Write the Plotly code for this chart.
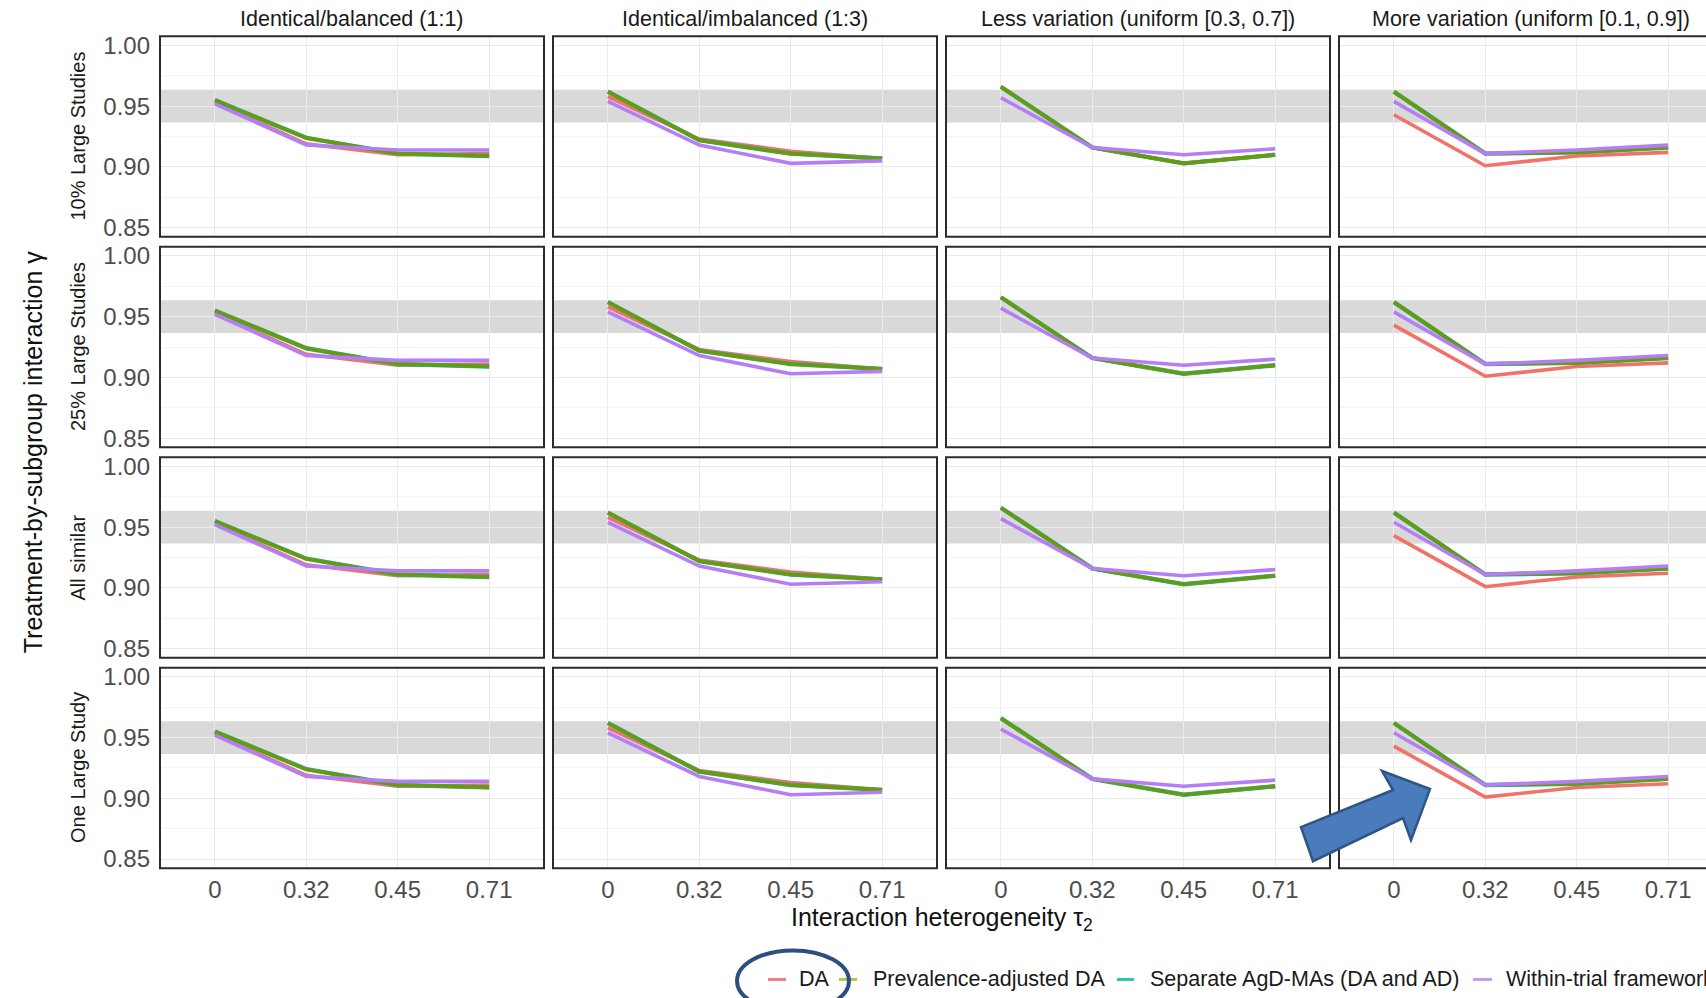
import plotly.graph_objects as go
from plotly.subplots import make_subplots

# ---- data -------------------------------------------------------------
TAU_LABELS = ["0", "0.32", "0.45", "0.71"]

COLUMN_TITLES = [
    "Identical/balanced (1:1)",
    "Identical/imbalanced (1:3)",
    "Less variation (uniform [0.3, 0.7])",
    "More variation (uniform [0.1, 0.9])",
]
ROW_TITLES = ["10% Large Studies", "25% Large Studies", "All similar", "One Large Study"]

METHODS = ["DA", "Prevalence-adjusted DA", "Separate AgD-MAs (DA and AD)", "Within-trial framework"]

# coverage per column (prevalence scenario), same in every study-size row
DA_COVERAGE = [
    [0.953, 0.919, 0.910, 0.911],
    [0.958, 0.923, 0.913, 0.907],
    [0.966, 0.916, 0.903, 0.910],
    [0.943, 0.901, 0.909, 0.912],
]
PREV_ADJ_COVERAGE = [
    [0.955, 0.924, 0.911, 0.909],
    [0.962, 0.922, 0.911, 0.907],
    [0.966, 0.916, 0.903, 0.910],
    [0.962, 0.911, 0.912, 0.916],
]
SEPARATE_COVERAGE = [
    [0.955, 0.924, 0.911, 0.909],
    [0.962, 0.922, 0.911, 0.907],
    [0.966, 0.916, 0.903, 0.910],
    [0.962, 0.911, 0.912, 0.916],
]
WITHIN_COVERAGE = [
    [0.952, 0.918, 0.914, 0.914],
    [0.954, 0.918, 0.903, 0.905],
    [0.957, 0.916, 0.910, 0.915],
    [0.954, 0.911, 0.914, 0.918],
]

NOMINAL_BAND = [0.9365, 0.9635]
Y_TICKS = [0.85, 0.90, 0.95, 1.00]
Y_MINOR = [0.875, 0.925, 0.975]

# ---- styling ----------------------------------------------------------
W, H = 1706, 998
FONT = "Liberation Sans, Arial, sans-serif"
LINE_COLORS = ["#F0736A", "#6A9A0B", "#16B5AE", "#B67EF4"]
KEY_COLORS = ["#F07C84", "#A8CC3C", "#2EC4B0", "#C49AEE"]
DRAW_ORDER = [0, 2, 1, 3]          # teal sits under the green line
SERIES = [DA_COVERAGE, PREV_ADJ_COVERAGE, SEPARATE_COVERAGE, WITHIN_COVERAGE]

COL_LEFT = [160, 553, 946, 1339]   # panel left edges (px)
ROW_TOP = [37, 247, 457, 667]      # panel top edges (px)
PANEL_W, PANEL_H = 384, 200
X_RANGE = [-0.6, 3.6]
Y_RANGE = [0.8425, 1.0075]


def px(x):
    return x / W


def py(y):
    # vertical pixel position -> paper fraction (small page-fit correction)
    y = (y - 4.7) / 0.9898
    return 1 - y / H


fig = make_subplots(rows=4, cols=4)

for r in range(4):
    for c in range(4):
        for s in DRAW_ORDER:
            fig.add_trace(
                go.Scatter(
                    x=TAU_LABELS,
                    y=SERIES[s][c],
                    mode="lines",
                    name=METHODS[s],
                    line=dict(color=LINE_COLORS[s], width=3.6 if s != 2 else 4.4),
                    showlegend=False,
                    hoverinfo="skip",
                ),
                row=r + 1,
                col=c + 1,
            )

shapes = []
annotations = []

for r in range(4):
    for c in range(4):
        idx = r * 4 + c + 1
        xa = "xaxis" if idx == 1 else f"xaxis{idx}"
        ya = "yaxis" if idx == 1 else f"yaxis{idx}"
        xref = "x" if idx == 1 else f"x{idx}"
        yref = "y" if idx == 1 else f"y{idx}"

        left = COL_LEFT[c]
        right = min(left + PANEL_W, W)
        xr = list(X_RANGE)
        if left + PANEL_W > W:
            # last column runs past the right edge of the canvas
            xr[1] = X_RANGE[0] + (W - left) / PANEL_W * (X_RANGE[1] - X_RANGE[0])
        top = ROW_TOP[r]
        bottom = top + PANEL_H

        fig.layout[xa].update(
            domain=[px(left), px(right)],
            type="category",
            range=xr,
            showgrid=True,
            gridcolor="#EBEBEB",
            gridwidth=1,
            zeroline=False,
            showline=False,
            ticks="",
            showticklabels=(r == 3),
            tickfont=dict(family=FONT, size=24, color="#4D4D4D"),
            ticklabelstandoff=5,
        )
        fig.layout[ya].update(
            domain=[py(bottom), py(top)],
            range=Y_RANGE,
            tickvals=Y_TICKS,
            ticktext=[f"{v:.2f}" for v in Y_TICKS],
            showgrid=True,
            gridcolor="#EBEBEB",
            gridwidth=1,
            minor=dict(tickvals=Y_MINOR, showgrid=True, gridcolor="#F4F4F4", gridwidth=1),
            zeroline=False,
            showline=False,
            ticks="",
            showticklabels=(c == 0),
            tickfont=dict(family=FONT, size=24, color="#4D4D4D"),
            ticklabelstandoff=9,
        )

        # nominal 95% coverage band (clipped to the panel)
        shapes.append(dict(
            type="rect", xref=xref, yref=yref,
            x0=X_RANGE[0], x1=X_RANGE[1], y0=NOMINAL_BAND[0], y1=NOMINAL_BAND[1],
            fillcolor="rgba(0,0,0,0.15)", line=dict(width=0), layer="below",
        ))
        # panel border
        shapes.append(dict(
            type="rect", xref="paper", yref="paper",
            x0=px(left), x1=px(left + PANEL_W), y0=py(bottom), y1=py(top),
            line=dict(color="#2B2B2B", width=2), fillcolor="rgba(0,0,0,0)", layer="above",
        ))

# column strip titles
for c, title in enumerate(COLUMN_TITLES):
    annotations.append(dict(
        text=title, xref="paper", yref="paper",
        x=px(COL_LEFT[c] + PANEL_W / 2), y=py(20),
        xanchor="center", yanchor="middle", showarrow=False,
        font=dict(family=FONT, size=21.5, color="#1A1A1A"),
    ))

# row strip titles on the left
for r, title in enumerate(ROW_TITLES):
    annotations.append(dict(
        text=title, xref="paper", yref="paper",
        x=px(78), y=py(ROW_TOP[r] + PANEL_H / 2),
        xanchor="center", yanchor="middle", showarrow=False, textangle=-90,
        font=dict(family=FONT, size=20, color="#1A1A1A"),
    ))

# axis titles
annotations.append(dict(
    text="Treatment-by-subgroup interaction γ", xref="paper", yref="paper",
    x=px(33), y=py(452), xanchor="center", yanchor="middle",
    showarrow=False, textangle=-90,
    font=dict(family=FONT, size=25, color="#111111"),
))
annotations.append(dict(
    text="Interaction heterogeneity τ<sub>2</sub>", xref="paper", yref="paper",
    x=px(942), y=py(918), xanchor="center", yanchor="middle", showarrow=False,
    font=dict(family=FONT, size=25, color="#111111"),
))

# legend along the bottom
LEGEND_Y = 978
KEY_X = [(768, 786), (839, 857), (1117, 1134), (1473, 1492)]
LABEL_X = [797, 871, 1148, 1504]
for i, name in enumerate(METHODS):
    shapes.append(dict(
        type="line", xref="paper", yref="paper",
        x0=px(KEY_X[i][0]), x1=px(KEY_X[i][1]), y0=py(LEGEND_Y), y1=py(LEGEND_Y),
        line=dict(color=KEY_COLORS[i], width=3),
    ))
    annotations.append(dict(
        text=name, xref="paper", yref="paper",
        x=px(LABEL_X[i]), y=py(LEGEND_Y), xanchor="left", yanchor="middle",
        showarrow=False, font=dict(family=FONT, size=21.5, color="#1A1A1A"),
    ))

# highlight ring around the DA legend entry
shapes.append(dict(
    type="circle", xref="paper", yref="paper",
    x0=px(737), x1=px(849), y0=py(1010), y1=py(949),
    line=dict(color="#2D4F80", width=4), fillcolor="rgba(0,0,0,0)",
))

# block arrow pointing at the DA line in the bottom-right panel
ARROW = [(1301, 826), (1393, 789), (1382, 770), (1430, 788),
         (1411, 839), (1403, 817), (1313, 860)]
arrow_path = "M " + " L ".join(f"{px(x):.5f},{py(y):.5f}" for x, y in ARROW) + " Z"
shapes.append(dict(
    type="path", xref="paper", yref="paper", path=arrow_path,
    fillcolor="#4A7BBA", line=dict(color="#2F5587", width=2.5), layer="above",
))

fig.update_layout(
    width=W, height=H,
    margin=dict(l=0, r=0, t=0, b=0),
    paper_bgcolor="white",
    plot_bgcolor="white",
    showlegend=False,
    shapes=shapes,
    annotations=annotations,
    font=dict(family=FONT),
)

fig.write_html("out.html")
